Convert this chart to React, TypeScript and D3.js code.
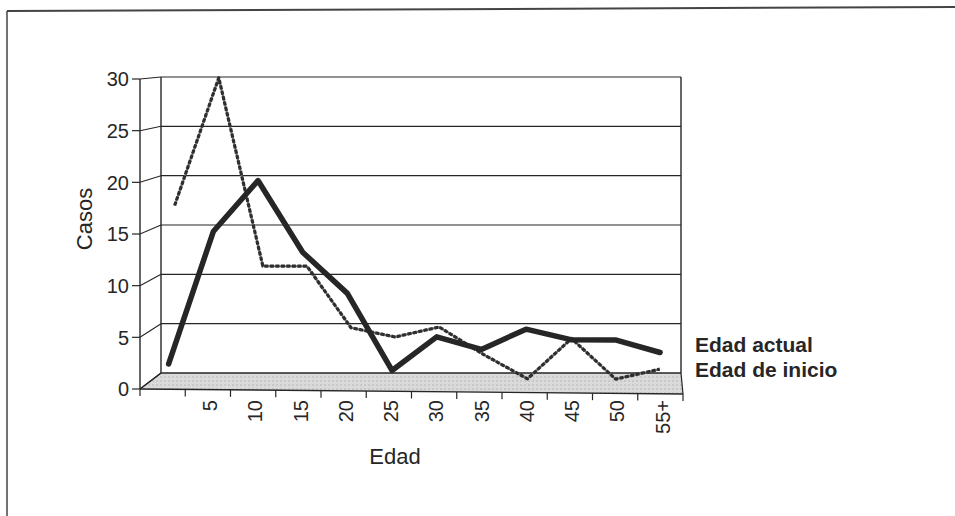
import React from "react";
import * as d3 from "d3";

const categories = ["", "5", "10", "15", "20", "25", "30", "35", "40", "45", "50", "55+"];
const edadActual = [2, 15, 20, 13, 9, 1.5, 4.8, 3.6, 5.6, 4.6, 4.6, 3.4];
const edadInicio = [17.3, 30, 11.3, 11.3, 5.2, 4.3, 5.3, 2.6, 0.2, 4.2, 0.2, 1.2];
const yTicks = [0, 5, 10, 15, 20, 25, 30];
const seriesNames = ["Edad actual", "Edad de inicio"];

const W = 955;
const H = 516;
const FONT = "'Liberation Sans', Arial, sans-serif";
const INK = "#262626";

// Front and back planes of the 3D box
const FRONT = { x0: 140, x1: 683, yb0: 389, yb1: 394, yTop: 79 };
const BACK = { x0: 161, x1: 681, yb: 373, yTop: 77 };

export default function App() {
  const xFrac = d3
    .scaleBand<string>()
    .domain(categories)
    .range([0, 1]);
  const centerFrac = (c: string) => (xFrac(c) as number) + xFrac.bandwidth() / 2;

  const yFront = d3.scaleLinear().domain([0, 30]).range([FRONT.yb0, FRONT.yTop]);
  const yBack = d3.scaleLinear().domain([0, 30]).range([BACK.yb, BACK.yTop]);
  const xFront = d3.scaleLinear().domain([0, 1]).range([FRONT.x0, FRONT.x1]);
  const xBack = d3.scaleLinear().domain([0, 1]).range([BACK.x0, BACK.x1]);
  const frontBase = d3.scaleLinear().domain([0, 1]).range([FRONT.yb0, FRONT.yb1]);

  const project = (f: number, v: number, depth: number): [number, number] => {
    const fx = xFront(f);
    const fy = yFront(v) + (frontBase(f) - FRONT.yb0) * (1 - v / 30);
    const bx = xBack(f);
    const by = yBack(v);
    return [fx + (bx - fx) * depth, fy + (by - fy) * depth];
  };

  const line = d3.line<[number, number]>().x((d) => d[0]).y((d) => d[1]);

  const ptsActual = categories.map((c, i) => project(centerFrac(c), edadActual[i], 0.3));
  const ptsInicio = categories.map((c, i) => project(centerFrac(c), edadInicio[i], 0.6));

  const floor = [
    [FRONT.x0, FRONT.yb0],
    [FRONT.x1, FRONT.yb1],
    [BACK.x1, BACK.yb],
    [BACK.x0, BACK.yb],
  ]
    .map((p) => p.join(","))
    .join(" ");

  const boundaries = d3.range(categories.length + 1).map((i) => i / categories.length);

  return (
    <svg
      width={W}
      height={H}
      style={{ position: "absolute", left: 0, top: 0, background: "#fff" }}
      fontFamily={FONT}
    >
      <rect width={W} height={H} fill="#fff" />
      {/* outer frame */}
      <line x1={7} y1={11} x2={W} y2={7} stroke="#444" strokeWidth={2} />
      <line x1={7} y1={11} x2={7} y2={H} stroke="#444" strokeWidth={1.5} />

      {/* floor */}
      <defs>
        <pattern id="floorPat" width="4" height="4" patternUnits="userSpaceOnUse">
          <rect width="4" height="4" fill="#dadada" />
          <rect width="2" height="2" fill="#c8c8c8" />
        </pattern>
      </defs>
      <polygon points={floor} fill="url(#floorPat)" stroke="none" />
      <line x1={BACK.x0} y1={BACK.yb} x2={BACK.x1} y2={BACK.yb} stroke={INK} strokeWidth={1.6} />
      <line x1={FRONT.x0} y1={FRONT.yb0} x2={BACK.x0} y2={BACK.yb} stroke={INK} strokeWidth={1.2} />
      <line x1={FRONT.x1} y1={FRONT.yb1} x2={BACK.x1} y2={BACK.yb} stroke={INK} strokeWidth={1.2} />

      {/* back wall gridlines */}
      {yTicks.filter((v) => v > 0).map((v) => (
        <line key={"g" + v} x1={BACK.x0} y1={yBack(v)} x2={BACK.x1} y2={yBack(v)} stroke={INK} strokeWidth={1.1} />
      ))}
      {/* side wall connectors */}
      {yTicks.map((v) => (
        <line key={"s" + v} x1={FRONT.x0} y1={yFront(v)} x2={BACK.x0} y2={yBack(v)} stroke={INK} strokeWidth={1.1} />
      ))}
      {/* wall edges */}
      <line x1={BACK.x0} y1={BACK.yTop} x2={BACK.x0} y2={BACK.yb} stroke={INK} strokeWidth={1.4} />
      <line x1={BACK.x1} y1={BACK.yTop} x2={BACK.x1} y2={BACK.yb} stroke={INK} strokeWidth={1.4} />
      <line x1={FRONT.x0} y1={FRONT.yTop} x2={FRONT.x0} y2={FRONT.yb0} stroke={INK} strokeWidth={1.4} />

      {/* y axis ticks & labels */}
      {yTicks.map((v) => (
        <g key={"y" + v}>
          <line x1={132} y1={yFront(v)} x2={FRONT.x0} y2={yFront(v)} stroke={INK} strokeWidth={1.2} />
          <text x={129} y={yFront(v)} dy="0.36em" textAnchor="end" fontSize={20} fill={INK}>
            {v}
          </text>
        </g>
      ))}
      <text
        transform={`translate(92,${219}) rotate(-90)`}
        textAnchor="middle"
        fontSize={22}
        fill={INK}
      >
        Casos
      </text>

      {/* x axis */}
      <line x1={FRONT.x0} y1={FRONT.yb0} x2={FRONT.x1} y2={FRONT.yb1} stroke={INK} strokeWidth={1.4} />
      {boundaries.map((f, i) => (
        <line
          key={"t" + i}
          x1={xFront(f)}
          y1={frontBase(f)}
          x2={xFront(f)}
          y2={frontBase(f) + 7}
          stroke={INK}
          strokeWidth={1.2}
        />
      ))}
      {categories.map((c) => {
        const f = centerFrac(c);
        const x = xFront(f) + 2;
        return (
          <text
            key={"x" + c}
            transform={`translate(${x},${400}) rotate(-90)`}
            textAnchor="end"
            dy="0.36em"
            fontSize={20}
            fill={INK}
          >
            {c}
          </text>
        );
      })}
      <text x={395} y={464} textAnchor="middle" fontSize={22} fill={INK}>
        Edad
      </text>

      {/* series */}
      <path d={line(ptsInicio) || ""} fill="none" stroke="#6a6a6a" strokeWidth={2} strokeLinejoin="round" />
      <path d={line(ptsInicio) || ""} fill="none" stroke="#2e2e2e" strokeWidth={3.2} strokeDasharray="4 1.5" strokeLinejoin="round" />
      <path d={line(ptsActual) || ""} fill="none" stroke="#262626" strokeWidth={5.5} strokeLinejoin="round" strokeLinecap="round" />

      {/* legend */}
      {seriesNames.map((s, i) => (
        <text key={s} x={695} y={352 + i * 25} fontSize={21} fontWeight="bold" fill={INK}>
          {s}
        </text>
      ))}
    </svg>
  );
}
